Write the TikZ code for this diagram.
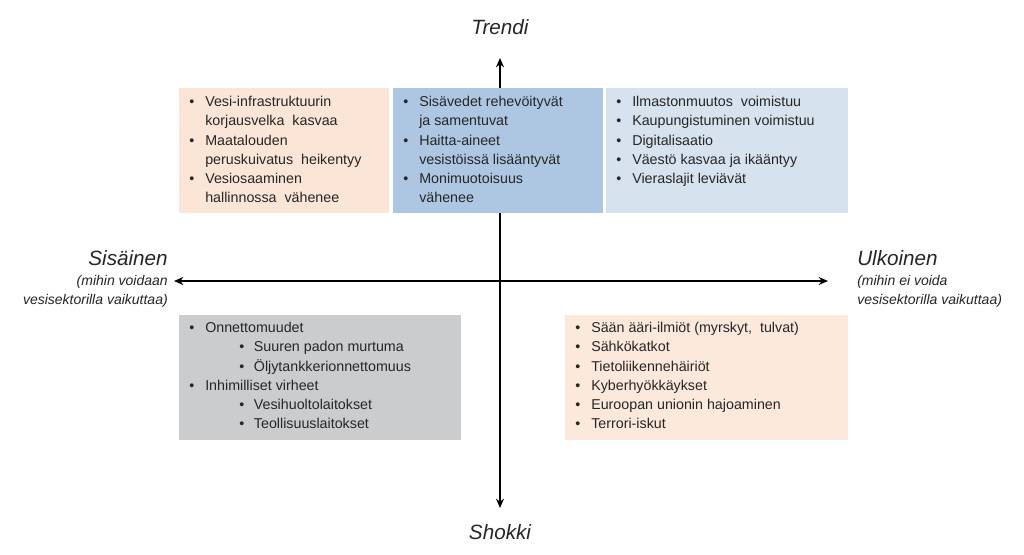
\documentclass[tikz,border=0pt]{standalone}
\usepackage{fontspec}
\setmainfont{Liberation Sans}
\usetikzlibrary{arrows.meta}
\definecolor{peach}{HTML}{FBE5D6}
\definecolor{midblue}{HTML}{ADC6E1}
\definecolor{lightblue}{HTML}{D7E2EF}
\definecolor{grayb}{HTML}{CACCCE}
\definecolor{txt}{HTML}{262626}
\newcommand{\bl}{\makebox[12pt][l]{•}}
\newcommand{\ind}{\hspace*{12pt}}
\newcommand{\sbl}{\hspace*{37.5pt}\makebox[11pt][l]{•}}
\begin{document}
\begin{tikzpicture}[x=0.75pt,y=-0.75pt,
  lst/.style={anchor=north west,align=left,inner sep=0pt,font=\fontsize{10.7}{14.4}\selectfont,text=txt},
  lab/.style={font=\fontsize{15.5}{18}\selectfont\itshape,text=txt,inner sep=0pt},
  sub/.style={font=\fontsize{10.5}{14.2}\selectfont\itshape,text=txt,inner sep=0pt,align=right},
  ax/.style={-{Stealth[length=7pt,width=6pt]},line width=1.2pt,draw=black}]
\useasboundingbox (0,0) rectangle (1024,554);
\fill[white] (0,0) rectangle (1024,554);
\coordinate (c) at (500,281);
\coordinate (t) at (500,58);
\coordinate (b) at (500,508);
\coordinate (l) at (174,281);
\coordinate (r) at (828,281);
\draw[ax] (c) -- (t);
\draw[ax] (c) -- (b);
\draw[ax] (c) -- (l);
\draw[ax] (c) -- (r);
\fill[peach] (179,88) rectangle (389,213);
\fill[midblue] (393,88) rectangle (603,213);
\fill[lightblue] (606,88) rectangle (848,213);
\fill[grayb] (179,315) rectangle (461,440);
\fill[peach!85!white] (565,315) rectangle (848,440);
\node[lab] (trendi) at (500,27) {Trendi};
\node[lab] (shokki) at (500,532) {Shokki};
\node[lab,anchor=east] (sis) at (168,258) {Sisäinen};
\node[sub,anchor=north east] (sissub) at (168,275) {(mihin voidaan\\vesisektorilla vaikuttaa)};
\node[lab,anchor=west] (ulk) at (857,258) {Ulkoinen};
\node[sub,anchor=north west,align=left] (ulksub) at (857,275) {(mihin ei voida\\vesisektorilla vaikuttaa)};
\node[lst] (b1) at (189,96) {\bl Vesi-infrastruktuurin\\\ind korjausvelka\ \ kasvaa\\\bl Maatalouden\\\ind peruskuivatus\ \ heikentyy\\\bl Vesiosaaminen\\\ind hallinnossa\ \ vähenee};
\node[lst] (b2) at (403,96) {\bl Sisävedet rehevöityvät\\\ind ja samentuvat\\\bl Haitta-aineet\\\ind vesistöissä lisääntyvät\\\bl Monimuotoisuus\\\ind vähenee};
\node[lst] (b3) at (616,96) {\bl Ilmastonmuutos\ \ voimistuu\\\bl Kaupungistuminen voimistuu\\\bl Digitalisaatio\\\bl Väestö kasvaa ja ikääntyy\\\bl Vieraslajit leviävät};
\node[lst] (b4) at (189,322) {\bl Onnettomuudet\\\sbl Suuren padon murtuma\\\sbl Öljytankkerionnettomuus\\\bl Inhimilliset virheet\\\sbl Vesihuoltolaitokset\\\sbl Teollisuuslaitokset};
\node[lst] (b5) at (575,322) {\bl Sään ääri-ilmiöt (myrskyt,\ \ tulvat)\\\bl Sähkökatkot\\\bl Tietoliikennehäiriöt\\\bl Kyberhyökkäykset\\\bl Euroopan unionin hajoaminen\\\bl Terrori-iskut};
\end{tikzpicture}
\end{document}
